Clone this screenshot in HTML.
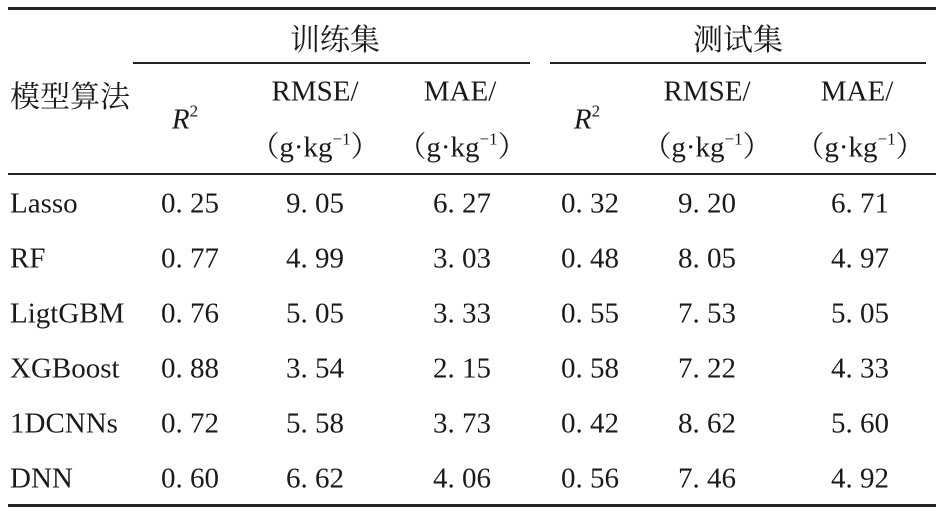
<!DOCTYPE html>
<html><head><meta charset="utf-8"><style>
body{margin:0;background:#fff;}
#t{position:relative;width:944px;height:512px;overflow:hidden;font-family:"Liberation Serif","Noto Serif CJK SC",serif;color:#1a1a1a;font-size:29px;}
.c{position:absolute;white-space:nowrap;transform:translate(-50%,-50%);line-height:1;}
.l{position:absolute;white-space:nowrap;transform:translateY(-50%);line-height:1;}
.r{position:absolute;background:#222;}
.cn{font-family:"Noto Serif CJK SC","WenQuanYi Zen Hei",serif;font-size:30px;}
sup{font-size:17px;vertical-align:0;position:relative;top:-12px;}
</style></head><body>
<div id="t">
<div class="r" style="left:8px;top:7px;width:928px;height:3px"></div>
<div class="r" style="left:133px;top:62px;width:397px;height:2px"></div>
<div class="r" style="left:550px;top:62px;width:376px;height:2px"></div>
<div class="r" style="left:8px;top:173px;width:928px;height:2px"></div>
<div class="r" style="left:8px;top:504px;width:928px;height:3px"></div>
<div class="c cn" style="left:335px;top:37px">训练集</div>
<div class="c cn" style="left:738px;top:37px">测试集</div>
<div class="l cn" style="left:10px;top:94px">模型算法</div>
<div class="c" style="left:185px;top:120px;font-style:italic">R<sup style="font-style:normal">2</sup></div>
<div class="c" style="left:315px;top:92px">RMSE/</div>
<div class="c" style="left:315px;top:148px">（g·kg<sup>−1</sup>）</div>
<div class="c" style="left:460px;top:92px">MAE/</div>
<div class="c" style="left:462px;top:148px">（g·kg<sup>−1</sup>）</div>
<div class="c" style="left:587px;top:120px;font-style:italic">R<sup style="font-style:normal">2</sup></div>
<div class="c" style="left:707px;top:92px">RMSE/</div>
<div class="c" style="left:707px;top:148px">（g·kg<sup>−1</sup>）</div>
<div class="c" style="left:857px;top:92px">MAE/</div>
<div class="c" style="left:860px;top:148px">（g·kg<sup>−1</sup>）</div>
</div>
<script>
const models=["Lasso","RF","LigtGBM","XGBoost","1DCNNs","DNN"];
const trainR2=["0. 25","0. 77","0. 76","0. 88","0. 72","0. 60"];
const trainRMSE=["9. 05","4. 99","5. 05","3. 54","5. 58","6. 62"];
const trainMAE=["6. 27","3. 03","3. 33","2. 15","3. 73","4. 06"];
const testR2=["0. 32","0. 48","0. 55","0. 58","0. 42","0. 56"];
const testRMSE=["9. 20","8. 05","7. 53","7. 22","8. 62","7. 46"];
const testMAE=["6. 71","4. 97","5. 05","4. 33","5. 60","4. 92"];
const t=document.getElementById('t');
const cols=[[trainR2,190,'train-r2'],[trainRMSE,315,'train-rmse'],[trainMAE,462,'train-mae'],[testR2,590,'test-r2'],[testRMSE,707,'test-rmse'],[testMAE,860,'test-mae']];
models.forEach((m,i)=>{
  const y=204+i*55;
  const d=document.createElement('div');
  d.className='l';d.style.left='10px';d.style.top=y+'px';d.textContent=m;
  
  
  t.appendChild(d);
  cols.forEach(c=>{
    const e=document.createElement('div');
    e.className='c';e.style.left=c[1]+'px';e.style.top=y+'px';e.textContent=c[0][i];
    
    
    t.appendChild(e);
  });
});
</script>
</body></html>
